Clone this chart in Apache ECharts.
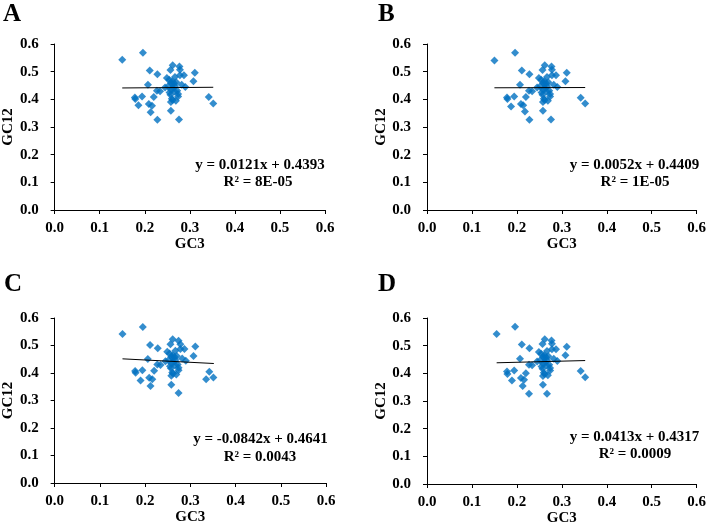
<!DOCTYPE html>
<html>
<head>
<meta charset="utf-8">
<script src="https://cdn.jsdelivr.net/npm/echarts@6/dist/echarts.min.js"></script>
<style>html,body{margin:0;padding:0;background:#fff;}#c{width:709px;height:527px;}</style>
</head>
<body>
<div id="c"></div>
<script>
// ---- data ----
var panelLetters = ['A', 'B', 'C', 'D'];
var xTicks = ['0.0', '0.1', '0.2', '0.3', '0.4', '0.5', '0.6'];
var yTicks = ['0.0', '0.1', '0.2', '0.3', '0.4', '0.5', '0.6'];
var xName = 'GC3';
var yName = 'GC12';

var pointsA = [[0.150,0.543],[0.196,0.568],[0.262,0.523],[0.277,0.519],[0.278,0.507],[0.257,0.506],[0.211,0.504],[0.228,0.491],[0.311,0.496],[0.287,0.487],[0.278,0.487],[0.267,0.481],[0.249,0.477],[0.254,0.471],[0.261,0.465],[0.308,0.465],[0.207,0.453],[0.261,0.455],[0.282,0.453],[0.290,0.445],[0.245,0.443],[0.252,0.447],[0.267,0.447],[0.227,0.431],[0.234,0.429],[0.258,0.435],[0.272,0.431],[0.274,0.419],[0.257,0.417],[0.220,0.408],[0.194,0.410],[0.178,0.407],[0.179,0.401],[0.260,0.402],[0.274,0.410],[0.258,0.390],[0.269,0.395],[0.342,0.408],[0.352,0.385],[0.186,0.379],[0.209,0.383],[0.216,0.377],[0.213,0.353],[0.258,0.359],[0.228,0.326],[0.276,0.327],[0.258,0.460],[0.265,0.458],[0.263,0.440],[0.270,0.462],[0.255,0.425],[0.266,0.428],[0.262,0.398]];
var pointsB = [[0.150,0.540],[0.196,0.568],[0.262,0.523],[0.277,0.519],[0.278,0.507],[0.257,0.506],[0.211,0.504],[0.228,0.491],[0.311,0.496],[0.287,0.487],[0.278,0.487],[0.267,0.481],[0.249,0.477],[0.254,0.471],[0.261,0.465],[0.308,0.465],[0.207,0.453],[0.261,0.455],[0.282,0.453],[0.290,0.445],[0.245,0.443],[0.252,0.447],[0.267,0.447],[0.227,0.431],[0.234,0.429],[0.258,0.435],[0.272,0.431],[0.274,0.419],[0.257,0.417],[0.220,0.408],[0.194,0.410],[0.178,0.407],[0.179,0.401],[0.260,0.402],[0.274,0.410],[0.258,0.390],[0.269,0.395],[0.342,0.406],[0.352,0.385],[0.187,0.374],[0.209,0.383],[0.214,0.379],[0.218,0.356],[0.258,0.359],[0.228,0.326],[0.276,0.327],[0.258,0.460],[0.265,0.458],[0.263,0.440],[0.270,0.462],[0.255,0.425],[0.266,0.428],[0.262,0.398]];
var pointsC = [[0.150,0.542],[0.195,0.567],[0.261,0.523],[0.274,0.517],[0.278,0.505],[0.256,0.505],[0.211,0.502],[0.228,0.490],[0.311,0.496],[0.287,0.487],[0.278,0.487],[0.267,0.481],[0.249,0.477],[0.254,0.471],[0.261,0.465],[0.307,0.462],[0.206,0.451],[0.261,0.455],[0.282,0.453],[0.290,0.445],[0.245,0.443],[0.252,0.447],[0.267,0.447],[0.227,0.431],[0.234,0.429],[0.258,0.435],[0.272,0.431],[0.274,0.419],[0.257,0.417],[0.220,0.408],[0.194,0.410],[0.178,0.407],[0.179,0.401],[0.260,0.402],[0.274,0.410],[0.258,0.390],[0.269,0.395],[0.342,0.405],[0.351,0.384],[0.190,0.373],[0.209,0.383],[0.216,0.377],[0.212,0.353],[0.258,0.357],[0.335,0.377],[0.274,0.327],[0.258,0.460],[0.265,0.458],[0.263,0.440],[0.270,0.462],[0.255,0.425],[0.266,0.428],[0.262,0.398]];
var pointsD = [[0.155,0.542],[0.196,0.568],[0.262,0.523],[0.277,0.519],[0.278,0.507],[0.257,0.506],[0.211,0.504],[0.228,0.491],[0.311,0.496],[0.287,0.487],[0.278,0.487],[0.267,0.481],[0.249,0.477],[0.254,0.471],[0.261,0.465],[0.308,0.465],[0.207,0.453],[0.261,0.455],[0.282,0.453],[0.290,0.445],[0.245,0.443],[0.252,0.447],[0.267,0.447],[0.227,0.431],[0.234,0.429],[0.258,0.435],[0.272,0.431],[0.274,0.419],[0.257,0.417],[0.220,0.400],[0.194,0.410],[0.178,0.407],[0.179,0.398],[0.260,0.402],[0.274,0.410],[0.258,0.390],[0.269,0.393],[0.342,0.408],[0.352,0.386],[0.189,0.374],[0.209,0.383],[0.216,0.377],[0.213,0.354],[0.258,0.359],[0.227,0.326],[0.267,0.326],[0.258,0.460],[0.265,0.458],[0.263,0.440],[0.270,0.462],[0.255,0.425],[0.266,0.428],[0.262,0.398]];

var trendA = [[0.150,0.4411],[0.352,0.4436]];
var trendB = [[0.150,0.4417],[0.352,0.4427]];
var trendC = [[0.150,0.4515],[0.352,0.4345]];
var trendD = [[0.155,0.4381],[0.352,0.4462]];

var equations = ['y = 0.0121x + 0.4393', 'y = 0.0052x + 0.4409', 'y = -0.0842x + 0.4641', 'y = 0.0413x + 0.4317'];
var rSquared = ['R\u00b2 = 8E-05', 'R\u00b2 = 1E-05', 'R\u00b2 = 0.0043', 'R\u00b2 = 0.0009'];

var allPoints = [pointsA, pointsB, pointsC, pointsD];
var allTrends = [trendA, trendB, trendC, trendD];

// ---- layout ----
var FONT = "'Liberation Serif', 'Times New Roman', serif";
var grids = [
  {left: 52, top: 44, width: 273, height: 166},
  {left: 427, top: 44, width: 273, height: 166},
  {left: 53, top: 318, width: 273, height: 165},
  {left: 427, top: 318, width: 273, height: 166}
];
var letterPos = [[3, 2], [378, 2], [4, 272], [378, 272]];
var eqPos = [[260, 165.5, 258, 182.5], [634.5, 165, 635, 182], [260.5, 439.5, 260, 457], [634.5, 437, 635, 454]];

var xAxes = [], yAxes = [], series = [], titles = [], graphics = [];
for (var i = 0; i < 4; i++) {
  xAxes.push({
    gridIndex: i, type: 'value', min: 0, max: 0.6, interval: 0.1,
    name: xName, nameLocation: 'middle', nameGap: 27,
    nameTextStyle: {fontFamily: FONT, fontWeight: 'bold', fontSize: 15, color: '#000'},
    axisLine: {show: true, lineStyle: {color: '#000', width: 1}},
    axisTick: {show: true, length: 4, lineStyle: {color: '#000'}},
    axisLabel: {margin: 11, fontFamily: FONT, fontWeight: 'bold', fontSize: 15, color: '#000',
      formatter: function (v) { return xTicks[Math.round(v * 10)]; }},
    splitLine: {show: false}
  });
  yAxes.push({
    gridIndex: i, type: 'value', min: 0, max: 0.6, interval: 0.1,
    name: yName, nameLocation: 'middle', nameGap: 37, nameRotate: 90,
    nameTextStyle: {fontFamily: FONT, fontWeight: 'bold', fontSize: 15, color: '#000'},
    axisLine: {show: true, lineStyle: {color: '#000', width: 1}},
    axisTick: {show: true, length: 4, lineStyle: {color: '#000'}},
    axisLabel: {margin: 16, fontFamily: FONT, fontWeight: 'bold', fontSize: 15, color: '#000',
      formatter: function (v) { return yTicks[Math.round(v * 10)]; }},
    splitLine: {show: false}
  });
  series.push({
    type: 'scatter', xAxisIndex: i, yAxisIndex: i, data: allPoints[i],
    symbol: 'diamond', symbolSize: 8, itemStyle: {color: '#0070C0'}, z: 2
  });
  series.push({
    type: 'line', xAxisIndex: i, yAxisIndex: i, data: allTrends[i],
    symbol: 'none', lineStyle: {color: '#000', width: 1}, z: 3, animation: false
  });
  titles.push({
    text: panelLetters[i], left: letterPos[i][0], top: letterPos[i][1],
    textStyle: {fontFamily: FONT, fontWeight: 'bold', fontSize: 25, color: '#000'}, padding: 0
  });
  graphics.push({
    type: 'text', x: eqPos[i][0], y: eqPos[i][1],
    style: {text: equations[i], textAlign: 'center', textVerticalAlign: 'middle',
      font: 'bold 15px ' + FONT, fill: '#000'}
  });
  graphics.push({
    type: 'text', x: eqPos[i][2], y: eqPos[i][3],
    style: {text: rSquared[i], textAlign: 'center', textVerticalAlign: 'middle',
      font: 'bold 15px ' + FONT, fill: '#000'}
  });
}

var chart = echarts.init(document.getElementById('c'));
chart.setOption({
  animation: false,
  backgroundColor: '#fff',
  title: titles,
  grid: grids,
  xAxis: xAxes,
  yAxis: yAxes,
  series: series,
  graphic: graphics
});
</script>
</body>
</html>
